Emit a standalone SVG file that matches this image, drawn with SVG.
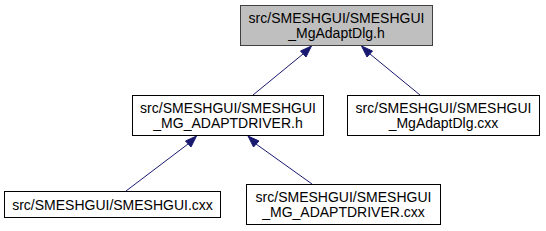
<svg xmlns="http://www.w3.org/2000/svg" width="546" height="231" viewBox="0 0 546 231">
<style>
.box{fill:#ffffff;stroke:#000000;stroke-width:1}
.hl{fill:#bfbfbf;stroke:#404040;stroke-width:1}
text{font-family:"Liberation Sans",Arial,sans-serif;font-size:14px;fill:#000000;text-anchor:middle}
.edge{stroke:#191970;stroke-width:1;fill:none}
.ah{fill:#191970;stroke:#191970;stroke-width:1}
</style>
<rect width="546" height="231" fill="#ffffff"/>
<g id="connectors">
<path class="edge" d="M253,95 L303,54"/>
<polygon class="ah" points="300.5,51 311.5,46 306,57"/>
<path class="edge" d="M420,95 L370,54"/>
<polygon class="ah" points="367,57 361.5,46 372.5,51"/>
<path class="edge" d="M126,191 L188,144"/>
<polygon class="ah" points="185.5,141 196.5,136 191,147"/>
<path class="edge" d="M312,184 L256,144"/>
<polygon class="ah" points="253.5,147 248,136 259,141"/>
</g>
<g id="node1">
<rect class="hl" x="240.5" y="5.5" width="192" height="40"/>
<text x="336.5" y="22.5">src/SMESHGUI/SMESHGUI</text>
<text x="336.5" y="37.5">_MgAdaptDlg.h</text>
</g>
<g id="node2">
<rect class="box" x="132.5" y="95.5" width="191" height="40"/>
<text x="228" y="112.5">src/SMESHGUI/SMESHGUI</text>
<text x="228" y="127.5">_MG_ADAPTDRIVER.h</text>
</g>
<g id="node3">
<rect class="box" x="347.5" y="95.5" width="192" height="40"/>
<text x="443.5" y="112.5">src/SMESHGUI/SMESHGUI</text>
<text x="443.5" y="127.5">_MgAdaptDlg.cxx</text>
</g>
<g id="node4">
<rect class="box" x="4.5" y="191.5" width="216" height="26"/>
<text x="112.5" y="209.5">src/SMESHGUI/SMESHGUI.cxx</text>
</g>
<g id="node5">
<rect class="box" x="246.5" y="184.5" width="194" height="40"/>
<text x="343.5" y="201.5">src/SMESHGUI/SMESHGUI</text>
<text x="343.5" y="216.5">_MG_ADAPTDRIVER.cxx</text>
</g>
</svg>
